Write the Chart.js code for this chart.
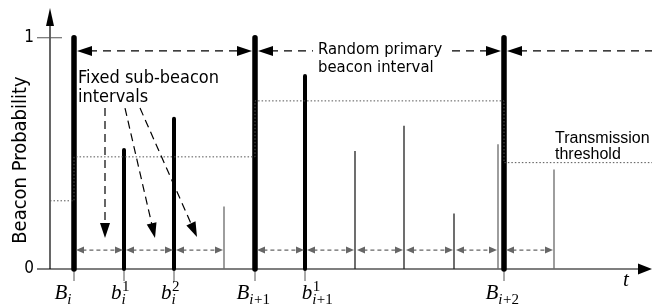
<!DOCTYPE html>
<html>
<head>
<meta charset="utf-8">
<script src="https://cdn.jsdelivr.net/npm/chart.js@4"></script>
<style>
  html, body { margin: 0; padding: 0; background: #fff; }
</style>
</head>
<body>
<canvas id="chart" width="652" height="307"></canvas>
<script>
// time in units of one sub-beacon interval, B_i = 0
const beaconT = [0, 3.62, 8.6];
const beaconP = [1, 1, 1];
const subBeaconT = [1, 2, 4.62];
const subBeaconP = [0.515, 0.65, 0.835];
const slotDarkT = [5.62, 6.6, 7.6];
const slotDarkP = [0.51, 0.62, 0.24];
const slotGrayT = [3, 8.48, 9.6];
const slotGrayP = [0.27, 0.54, 0.43];

// transmission threshold (stepped)
const thresholdT = [-0.48, 0, 3.62, 8.6, 11.56];
const thresholdP = [0.295, 0.485, 0.727, 0.46, 0.46];

// axis ticks
const yTicks = [0, 1];
const yTickLabels = ['0', '1'];
const xTickT = [0, 1, 2, 3.62, 4.62, 8.6];
const xTickLabels = [
    ['B', 'i', ''], ['b', 'i', '1'], ['b', 'i', '2'],
    ['B', 'i+1', ''], ['b', 'i+1', '1'], ['B', 'i+2', '']
];
const xTickShift = [-11, -4, -4, -2, 12, -2];

const SANS = "'DejaVu Sans Condensed', 'DejaVu Sans', sans-serif";
const SERIF = "'Liberation Serif', 'DejaVu Serif', serif";

function stems(ts, ps) {
    const out = [];
    ts.forEach((t, k) => {
        out.push({ x: t, y: 0 }, { x: t, y: ps[k] }, { x: t, y: null });
    });
    return out;
}

function stemSet(ts, ps, color, width, cap) {
    return {
        data: stems(ts, ps),
        borderColor: color,
        borderWidth: width,
        borderCapStyle: cap,
        pointRadius: 0,
        fill: false,
        spanGaps: false,
        clip: false
    };
}

function arrowHead(ctx, tx, ty, ux, uy, len, half) {
    // tip at (tx,ty), pointing along (ux,uy)
    const bx = tx - ux * len, by = ty - uy * len;
    ctx.beginPath();
    ctx.moveTo(tx, ty);
    ctx.lineTo(bx - uy * half, by + ux * half);
    ctx.lineTo(bx + uy * half, by - ux * half);
    ctx.closePath();
    ctx.fill();
}

function arrow(ctx, x1, y1, x2, y2, o) {
    const dx = x2 - x1, dy = y2 - y1;
    const L = Math.hypot(dx, dy), ux = dx / L, uy = dy / L;
    ctx.save();
    ctx.strokeStyle = o.color;
    ctx.fillStyle = o.color;
    ctx.lineWidth = o.width;
    ctx.setLineDash(o.dash || []);
    ctx.beginPath();
    ctx.moveTo(x1 + (o.start ? ux * o.len * 0.8 : 0), y1 + (o.start ? uy * o.len * 0.8 : 0));
    ctx.lineTo(x2 - (o.end ? ux * o.len * 0.8 : 0), y2 - (o.end ? uy * o.len * 0.8 : 0));
    ctx.stroke();
    ctx.setLineDash([]);
    if (o.start) arrowHead(ctx, x1, y1, -ux, -uy, o.len, o.half);
    if (o.end) arrowHead(ctx, x2, y2, ux, uy, o.len, o.half);
    ctx.restore();
}

function mathLabel(ctx, cx, baseY, base, sub, sup) {
    const fBase = 'italic 21px ' + SERIF;
    const fIt = 'italic 15px ' + SERIF;
    const fUp = '15px ' + SERIF;
    ctx.font = fBase;
    const wb = ctx.measureText(base).width;
    const subIt = sub.charAt(0), subUp = sub.slice(1);
    ctx.font = fIt;
    const wi = ctx.measureText(subIt).width;
    ctx.font = fUp;
    const wu = ctx.measureText(subUp).width;
    const wsup = sup ? ctx.measureText(sup).width : 0;
    const total = wb + Math.max(wi + wu, wsup);
    const left = cx - total / 2;
    ctx.textAlign = 'left';
    ctx.textBaseline = 'alphabetic';
    ctx.fillStyle = '#000';
    ctx.font = fBase;
    ctx.fillText(base, left, baseY);
    ctx.font = fIt;
    ctx.fillText(subIt, left + wb, baseY + 5);
    ctx.font = fUp;
    if (subUp) ctx.fillText(subUp, left + wb + wi + 0.5, baseY + 5);
    if (sup) ctx.fillText(sup, left + wb + 0.5, baseY - 8);
}

const figurePlugin = {
    id: 'figure',
    beforeDatasetsDraw(chart) {
        const { ctx, chartArea } = chart;
        const xs = chart.scales.x, ys = chart.scales.y;
        const x0 = xs.getPixelForValue(xs.min);
        const y0 = ys.getPixelForValue(0);
        ctx.save();
        ctx.strokeStyle = '#000';
        ctx.fillStyle = '#000';
        ctx.lineWidth = 1.2;
        // y axis
        ctx.beginPath();
        ctx.moveTo(x0, y0);
        ctx.lineTo(x0, chartArea.top + 14);
        ctx.stroke();
        arrowHead(ctx, x0, chartArea.top - 2, 0, -1, 18, 4);
        // x axis
        ctx.beginPath();
        ctx.moveTo(x0 - 13, y0);
        ctx.lineTo(chartArea.right - 10, y0);
        ctx.stroke();
        arrowHead(ctx, chartArea.right, y0, 1, 0, 14, 5.5);
        // y ticks
        ctx.strokeStyle = '#555';
        ctx.lineWidth = 1;
        ctx.font = '17px ' + SANS;
        ctx.textAlign = 'right';
        ctx.textBaseline = 'middle';
        yTicks.forEach((v, k) => {
            const py = ys.getPixelForValue(v);
            if (v > 0) {
                ctx.beginPath();
                ctx.moveTo(x0 - 13, py);
                ctx.lineTo(x0 + 12, py);
                ctx.stroke();
            }
            ctx.fillText(yTickLabels[k], x0 - 16, py);
        });
        // x ticks
        xTickT.forEach((t, k) => {
            const px = xs.getPixelForValue(t);
            ctx.beginPath();
            ctx.moveTo(px, y0);
            ctx.lineTo(px, y0 + 12);
            ctx.stroke();
            const l = xTickLabels[k];
            mathLabel(ctx, px + xTickShift[k], y0 + 30, l[0], l[1], l[2]);
        });
        // t label
        ctx.fillStyle = '#000';
        ctx.font = 'italic 21px ' + SERIF;
        ctx.textAlign = 'center';
        ctx.textBaseline = 'alphabetic';
        ctx.fillText('t', chartArea.right - 26, y0 + 17);
        // y title
        ctx.save();
        ctx.translate(26, 160);
        ctx.rotate(-Math.PI / 2);
        ctx.font = '20px ' + SANS;
        ctx.textAlign = 'center';
        ctx.fillText('Beacon Probability', 0, 0);
        ctx.restore();
        ctx.restore();
    },
    afterDatasetsDraw(chart) {
        const { ctx, chartArea } = chart;
        const xs = chart.scales.x, ys = chart.scales.y;
        const X = v => xs.getPixelForValue(v);
        const Y = v => ys.getPixelForValue(v);

        // random primary beacon intervals
        const yTop = Y(0.943);
        const topStyle = { color: '#000', width: 1.3, dash: [8, 6], len: 15, half: 5 };
        beaconT.forEach((t, k) => {
            const last = k === beaconT.length - 1;
            const xa = X(t) + 3;
            const xb = last ? chartArea.right : X(beaconT[k + 1]) - 3;
            arrow(ctx, xa, yTop, xb, yTop, Object.assign({ start: true, end: !last }, topStyle));
        });

        // sub-beacon slot intervals
        const yBot = Y(0.082);
        const allT = beaconT.concat(subBeaconT, slotDarkT, slotGrayT).sort((a, b) => a - b);
        for (let k = 0; k < allT.length - 1; k++) {
            if (allT[k + 1] - allT[k] < 0.8) continue;
            arrow(ctx, X(allT[k]) + 2, yBot, X(allT[k + 1]) - 1, yBot,
                { color: '#666', width: 1.2, dash: [4, 3], len: 8, half: 3.5, start: true, end: true });
        }

        // texts
        ctx.save();
        ctx.fillStyle = '#000';
        ctx.textAlign = 'left';
        ctx.textBaseline = 'alphabetic';

        ctx.font = '18px ' + SANS;
        const fx = X(0.08);
        ctx.fillText('Fixed sub-beacon', fx, Y(0.804));
        ctx.fillText('intervals', fx, Y(0.722));

        ctx.font = '16.5px ' + SANS;
        const rx = X(4.88), ry = Y(0.93);
        const rw = ctx.measureText('Random primary').width;
        ctx.fillStyle = '#fff';
        ctx.fillRect(rx - 5, ry - 14, rw + 10, 18);
        ctx.fillStyle = '#000';
        ctx.fillText('Random primary', rx, ry);
        ctx.fillText('beacon interval', rx, Y(0.852));

        ctx.font = '16px "Liberation Sans", Arial, sans-serif';
        ctx.fillText('Transmission', X(9.62), Y(0.545));
        ctx.fillText('threshold', X(9.62), Y(0.476));
        ctx.restore();

        // arrows from the sub-beacon text
        const downStyle = { color: '#000', width: 1.2, dash: [8, 5], len: 15, half: 5, start: false, end: true };
        [[0.62, 0.696, 0.62, 0.134], [1.02, 0.696, 1.62, 0.134], [1.32, 0.696, 2.46, 0.138]]
            .forEach(a => arrow(ctx, X(a[0]), Y(a[1]), X(a[2]), Y(a[3]), downStyle));
    }
};

new Chart(document.getElementById('chart'), {
    type: 'line',
    data: {
        datasets: [
            {
                data: thresholdT.map((t, k) => ({ x: t, y: thresholdP[k] })),
                stepped: true,
                borderColor: '#555',
                borderWidth: 1,
                borderDash: [1.5, 2],
                pointRadius: 0,
                fill: false,
                clip: false
            },
            stemSet(beaconT, beaconP, '#000', 5.5, 'round'),
            stemSet(subBeaconT, subBeaconP, '#000', 4, 'round'),
            stemSet(slotDarkT, slotDarkP, '#222', 1.3, 'butt'),
            stemSet(slotGrayT, slotGrayP, '#6a6a6a', 1.3, 'butt')
        ]
    },
    options: {
        responsive: false,
        devicePixelRatio: 1,
        animation: false,
        events: [],
        layout: { padding: { left: 50, right: 0, top: 10, bottom: 38 } },
        scales: {
            x: { type: 'linear', min: -0.48, max: 11.56, display: false },
            y: { min: 0, max: 1.12, display: false }
        },
        plugins: { legend: { display: false }, tooltip: { enabled: false } }
    },
    plugins: [figurePlugin]
});
</script>
</body>
</html>
